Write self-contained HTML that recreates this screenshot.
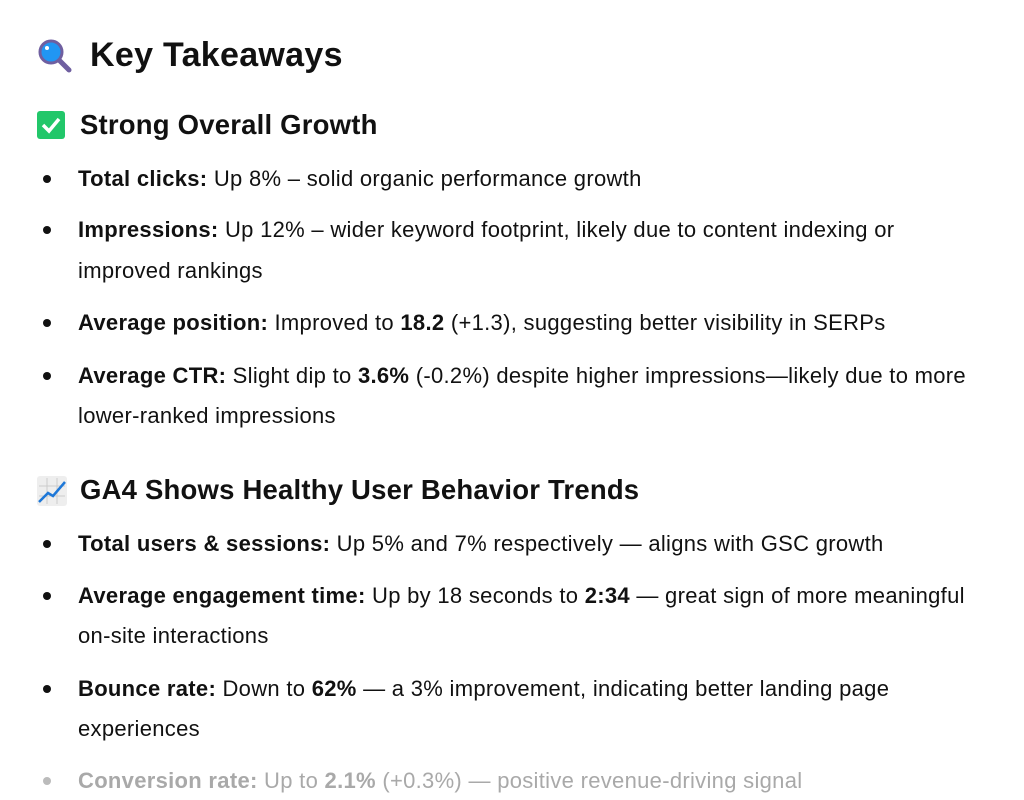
<!DOCTYPE html>
<html><head><meta charset="utf-8"><style>
html,body{margin:0;padding:0;background:#fff;width:1024px;height:800px;overflow:hidden}
body{font-family:"Liberation Sans",sans-serif;color:#111;position:relative}
.l{position:absolute;white-space:nowrap;font-size:22px;line-height:26px;left:78px;letter-spacing:0.3px}
.b{position:absolute;left:43px;width:8px;height:8px;border-radius:50%;background:#111}
h1,h2{margin:0;position:absolute;white-space:nowrap;font-weight:bold}
h1{font-size:34px;left:90px;top:36px;letter-spacing:0.3px}
h2{font-size:27.5px;left:80px;letter-spacing:0.2px}
strong{font-weight:bold}
.fade{color:#a9a9a9}
.bf{background:#bbb}
</style></head><body>
<svg style="position:absolute;left:37px;top:38px" width="36" height="36" viewBox="0 0 36 36"><line x1="20" y1="20" x2="32" y2="32" stroke="#6f5fa0" stroke-width="5" stroke-linecap="round"/><circle cx="14" cy="14" r="11" fill="#2196f3" stroke="#6f5fa0" stroke-width="3"/><circle cx="10" cy="10" r="2" fill="#fff"/></svg>
<h1>Key Takeaways</h1>
<svg style="position:absolute;left:37px;top:111px" width="28" height="28"><rect width="28" height="28" rx="3" fill="#22c76a"/><path d="M6 14 L12 20 L22 8" stroke="#fff" stroke-width="3.5" fill="none"/></svg>
<h2 style="top:109px">Strong Overall Growth</h2>
<div class="b" style="top:175px"></div><div class="l" style="top:166px"><strong>Total clicks:</strong> Up 8% – solid organic performance growth</div>
<div class="b" style="top:226px"></div><div class="l" style="top:217px"><strong>Impressions:</strong> Up 12% – wider keyword footprint, likely due to content indexing or</div>
<div class="l" style="top:258px">improved rankings</div>
<div class="b" style="top:319px"></div><div class="l" style="top:310px"><strong>Average position:</strong> Improved to <strong>18.2</strong> (+1.3), suggesting better visibility in SERPs</div>
<div class="b" style="top:372px"></div><div class="l" style="top:363px"><strong>Average CTR:</strong> Slight dip to <strong>3.6%</strong> (-0.2%) despite higher impressions—likely due to more</div>
<div class="l" style="top:403px">lower-ranked impressions</div>
<svg style="position:absolute;left:37px;top:476px" width="30" height="30"><rect width="30" height="30" rx="3" fill="#eee"/><path d="M10 2V28M20 2V28M2 10H28M2 20H28" stroke="#ccc" stroke-width="1"/><path d="M2 26 L11 17 L16 20 L28 6" stroke="#1e78d8" stroke-width="2.5" fill="none"/></svg>
<h2 style="top:474px">GA4 Shows Healthy User Behavior Trends</h2>
<div class="b" style="top:540px"></div><div class="l" style="top:531px"><strong>Total users &amp; sessions:</strong> Up 5% and 7% respectively — aligns with GSC growth</div>
<div class="b" style="top:592px"></div><div class="l" style="top:583px"><strong>Average engagement time:</strong> Up by 18 seconds to <strong>2:34</strong> — great sign of more meaningful</div>
<div class="l" style="top:623px">on-site interactions</div>
<div class="b" style="top:685px"></div><div class="l" style="top:676px"><strong>Bounce rate:</strong> Down to <strong>62%</strong> — a 3% improvement, indicating better landing page</div>
<div class="l" style="top:716px">experiences</div>
<div class="b bf" style="top:777px"></div><div class="l fade" style="top:768px"><strong>Conversion rate:</strong> Up to <strong>2.1%</strong> (+0.3%) — positive revenue-driving signal</div>
</body></html>
